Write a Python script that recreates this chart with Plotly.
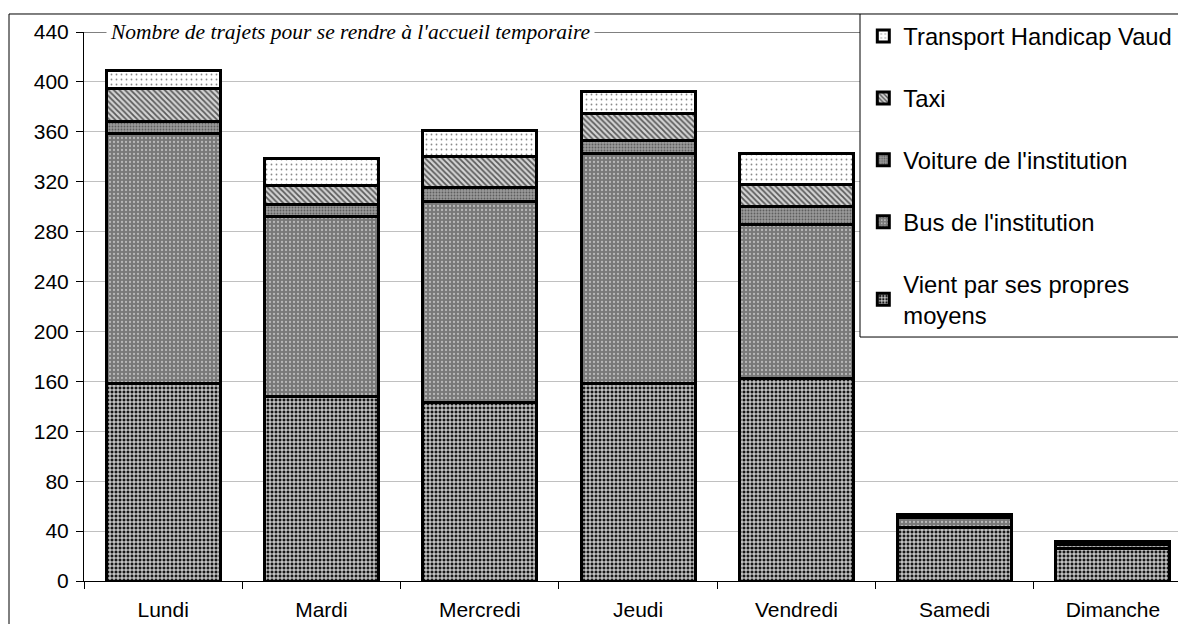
import plotly.graph_objects as go

days = ["Lundi", "Mardi", "Mercredi", "Jeudi", "Vendredi", "Samedi", "Dimanche"]
vient = [158, 148, 143, 158, 162, 43, 26]
bus = [201, 144, 161, 185, 124, 8, 3]
voiture = [9, 10, 11, 10, 14, 0, 0]
taxi = [27, 15, 25, 22, 18, 0, 0]
transport = [14, 22, 21, 17, 25, 2, 3]
y_ticks = list(range(0, 441, 40))
title_text = "Nombre de trajets pour se rendre à l'accueil temporaire"

series = [
    ("Vient par ses propres<br>moyens", vient, dict(shape="+", bgcolor="#161616", fgcolor="#ffffff", size=4, solidity=0.42)),
    ("Bus de l'institution", bus, dict(shape=".", bgcolor="#787878", fgcolor="#b8b8b8", size=4, solidity=0.25)),
    ("Voiture de l'institution", voiture, dict(shape=".", bgcolor="#9a9a9a", fgcolor="#5e5e5e", size=3, solidity=0.3)),
    ("Taxi", taxi, dict(shape="\\", bgcolor="#d4d4d4", fgcolor="#5a5a5a", size=4, solidity=0.45)),
    ("Transport Handicap Vaud", transport, dict(shape=".", bgcolor="#ffffff", fgcolor="#8a8a8a", size=5, solidity=0.1)),
]

fig = go.Figure()
n = len(series)
for i, (name, vals, pat) in enumerate(series):
    pat = dict(pat, fillmode="replace")
    fig.add_trace(go.Bar(
        x=days, y=vals, name=name, legendgroup=f"g{i}", legendrank=n - i,
        marker=dict(color=pat["bgcolor"], pattern=pat, line=dict(color="#000000", width=3)),
    ))

FONT = "Liberation Sans, Arial, sans-serif"
fig_w, fig_h = 1178, 616
plot_w = fig_w - 76          # plot area width in px
cat_w = 158.3                # px per category in the reference
x_end = -0.5 + plot_w / cat_w
leg_x = (860 - 84) / plot_w
top_y = 1.0328
leg_bottom = 0.4444
frame_x = -75 / plot_w

fig.update_layout(
    width=fig_w, height=fig_h,
    barmode="stack", bargap=0.28,
    plot_bgcolor="white", paper_bgcolor="white",
    margin=dict(l=76, r=0, t=24, b=43, autoexpand=False),
    font=dict(family=FONT, size=21, color="#000000"),
    showlegend=True,
    legend=dict(
        x=leg_x + 0.003, xanchor="left", y=top_y, yanchor="top",
        bgcolor="rgba(0,0,0,0)", borderwidth=0,
        font=dict(family=FONT, size=23.8, color="#000000"),
        traceorder="grouped", tracegroupgap=28,
        itemwidth=30, maxheight=600,
    ),
    xaxis=dict(
        range=[-0.5, x_end], type="category", automargin=False,
        showline=True, linecolor="#000000", linewidth=1,
        ticks="outside", tickson="boundaries", ticklen=7, tickcolor="#000000",
        showgrid=False, tickfont=dict(family=FONT, size=21), ticklabelstandoff=10,
    ),
    yaxis=dict(
        range=[0, 440], tickvals=y_ticks, automargin=False,
        showline=True, linecolor="#000000", linewidth=1,
        ticks="outside", ticklen=7, tickcolor="#000000",
        showgrid=True, gridcolor="#c0c0c0", gridwidth=1,
        zeroline=False, tickfont=dict(family=FONT, size=21), ticklabelstandoff=3,
    ),
    shapes=[
        dict(type="line", xref="paper", yref="y", x0=0, x1=1, y0=440, y1=440,
             line=dict(color="#808080", width=2), layer="above"),
        dict(type="rect", xref="paper", yref="paper", x0=leg_x, x1=1.2, y0=leg_bottom, y1=top_y,
             fillcolor="white", line=dict(width=0), layer="above"),
        dict(type="line", xref="paper", yref="paper", x0=leg_x, x1=leg_x, y0=leg_bottom, y1=top_y,
             line=dict(color="#000000", width=1), layer="above"),
        dict(type="line", xref="paper", yref="paper", x0=leg_x, x1=1.2, y0=leg_bottom, y1=leg_bottom,
             line=dict(color="#000000", width=1), layer="above"),
        dict(type="line", xref="paper", yref="paper", x0=frame_x, x1=1.2, y0=top_y, y1=top_y,
             line=dict(color="#000000", width=1), layer="above"),
        dict(type="line", xref="paper", yref="paper", x0=frame_x, x1=frame_x, y0=-0.5, y1=top_y,
             line=dict(color="#000000", width=1), layer="above"),
    ],
    annotations=[
        dict(text=title_text, xref="paper", yref="y", x=22 / plot_w, y=440,
             xanchor="left", yanchor="middle", showarrow=False,
             font=dict(family="Liberation Serif, Times New Roman, serif", size=21.5, color="#000000", style="italic"),
             bgcolor="white", borderpad=3),
    ],
)

fig.write_html("out.html")
